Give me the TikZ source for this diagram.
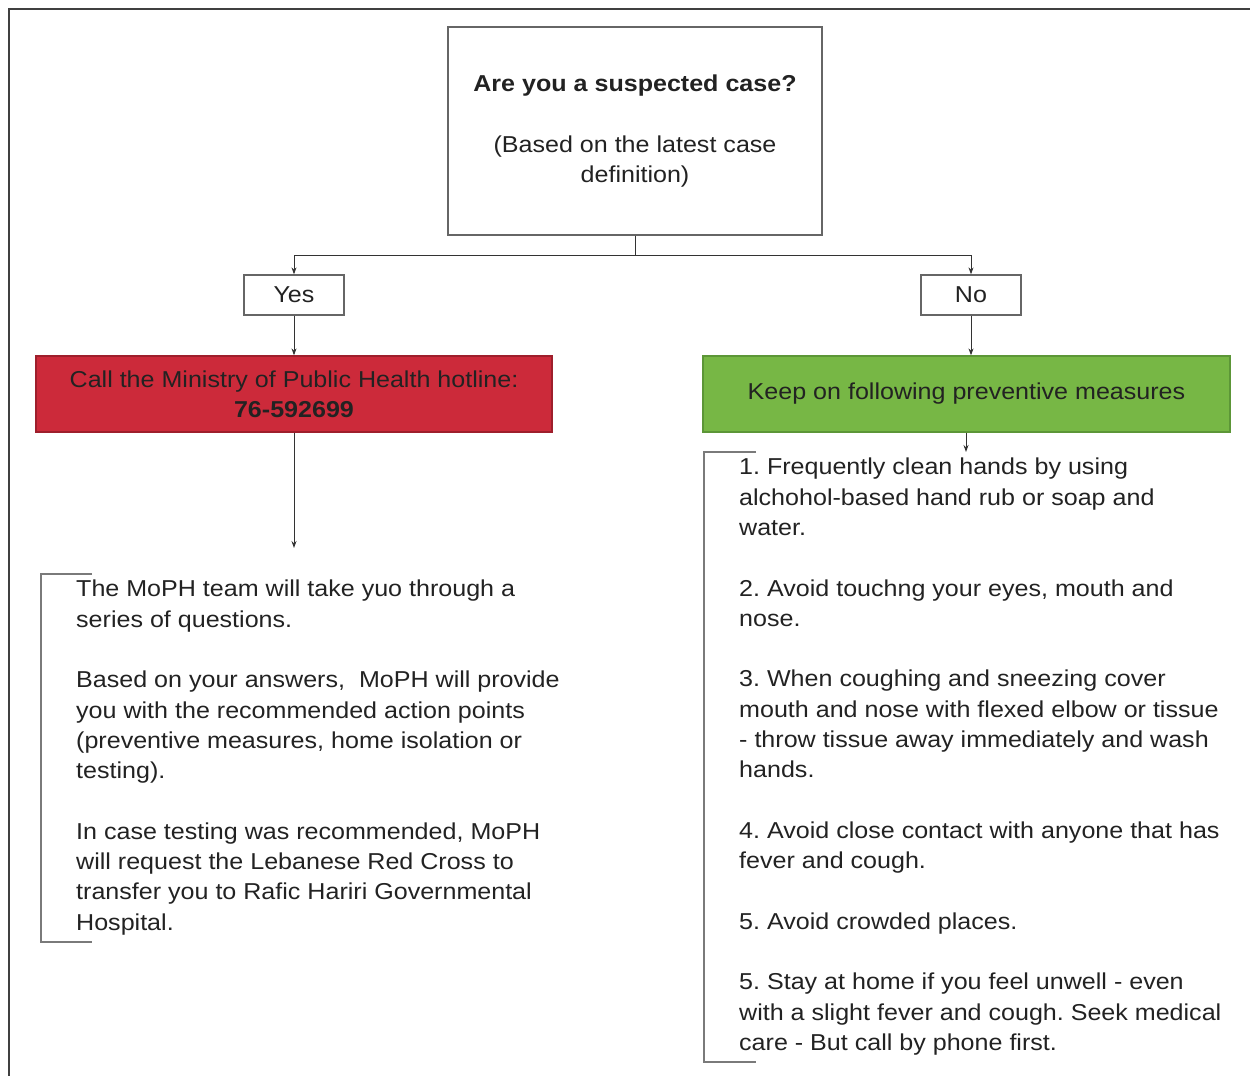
\documentclass[tikz,border=0pt]{standalone}
\usepackage{fontspec}
\setmainfont{Liberation Sans}
\newfontfamily\widesans[FakeStretch=1.09]{Liberation Sans}
\usetikzlibrary{arrows.meta,calc}
\definecolor{txt}{HTML}{222222}
\definecolor{boxline}{HTML}{666666}
\definecolor{redfill}{HTML}{CC2A3A}
\definecolor{redline}{HTML}{9E1F2C}
\definecolor{greenfill}{HTML}{77B745}
\definecolor{greenline}{HTML}{5C9637}
\definecolor{brk}{HTML}{7A7A7A}
\frenchspacing
\begin{document}
\begin{tikzpicture}[x=1pt,y=-1pt,
  every node/.style={text=txt, font=\widesans\fontsize{23}{30.3}\selectfont},
  plainbox/.style={draw=boxline, line width=1.3pt, fill=white, inner sep=0pt, align=center},
  arr/.style={draw=black!80, line width=0.9pt, -{Stealth[length=7pt,width=5pt]}},
  brack/.style={draw=brk, line width=1.6pt},
  body/.style={anchor=north west, align=left, inner sep=0pt}]
\useasboundingbox (0,0) rectangle (1250,1076);
\draw[line width=1.5pt, draw=black!75] (9,1076) -- (9,9) -- (1250,9);

\node[plainbox, minimum width=374pt, minimum height=208pt] (q) at (635,131)
  {\textbf{Are you a suspected case?}\\[30.3pt](Based on the latest case\\definition)};
\node[plainbox, minimum width=100pt, minimum height=40pt] (yes) at (294,295) {Yes};
\node[plainbox, minimum width=100pt, minimum height=40pt] (no) at (971,295) {No};
\node[draw=redline, fill=redfill, line width=1.3pt, minimum width=516pt, minimum height=76pt,
  align=center, inner sep=0pt] (red) at (294,394)
  {Call the Ministry of Public Health hotline:\\\textbf{76-592699}};
\node[draw=greenline, fill=greenfill, line width=1.3pt, minimum width=527pt, minimum height=76pt,
  inner sep=0pt] (green) at (966.5,394) {Keep on following preventive measures};

\coordinate (split) at (635,255);
\draw[arr] (q.south) -- (split) -| (yes.north);
\draw[arr] (q.south) -- (split) -| (no.north);
\draw[arr] (yes.south) -- (red.north);
\draw[arr] (no.south) -- (no.south |- green.north);
\coordinate (redend) at (294,548);
\draw[arr] (red.south) -- (redend);
\coordinate (greenend) at (966,452);
\draw[arr] (green.south -| greenend) -- (greenend);

\draw[brack] (92,574) -- (41,574) -- (41,942) -- (92,942);
\draw[brack] (756,452) -- (704,452) -- (704,1062) -- (756,1062);

\node[body] (lefttext) at (76,580) {The MoPH team will take yuo through a\\
series of questions.\\[30.3pt]
Based on your answers,\ \ MoPH will provide\\
you with the recommended action points\\
(preventive measures, home isolation or\\
testing).\\[30.3pt]
In case testing was recommended, MoPH\\
will request the Lebanese Red Cross to\\
transfer you to Rafic Hariri Governmental\\
Hospital.};

\node[body] (righttext) at (739,458) {1. Frequently clean hands by using\\
alchohol-based hand rub or soap and\\
water.\\[30.3pt]
2. Avoid touchng your eyes, mouth and\\
nose.\\[30.3pt]
3. When coughing and sneezing cover\\
mouth and nose with flexed elbow or tissue\\
- throw tissue away immediately and wash\\
hands.\\[30.3pt]
4. Avoid close contact with anyone that has\\
fever and cough.\\[30.3pt]
5. Avoid crowded places.\\[30.3pt]
5. Stay at home if you feel unwell - even\\
with a slight fever and cough. Seek medical\\
care - But call by phone first.};
\end{tikzpicture}
\end{document}
